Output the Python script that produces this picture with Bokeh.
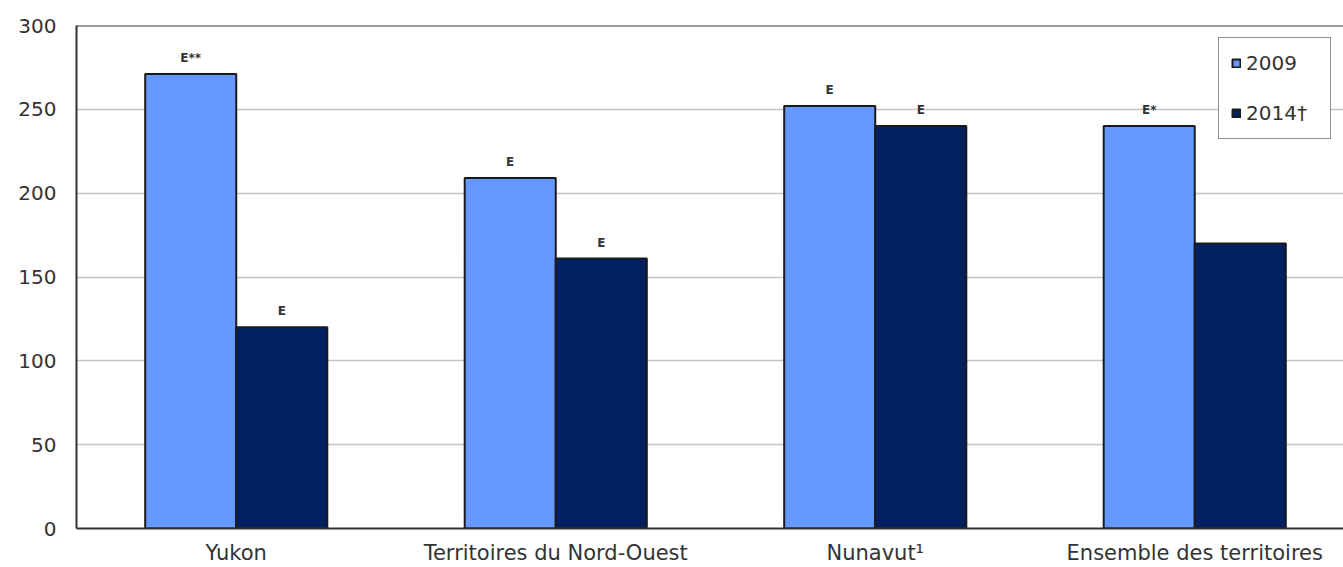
from bokeh.plotting import figure
from bokeh.models import ColumnDataSource, Range1d, FixedTicker, Legend, LegendItem, Span
from bokeh.embed import file_html
from bokeh.resources import INLINE
from bokeh.core.properties import value
from bokeh.transform import dodge

categories = ["Yukon", "Territoires du Nord-Ouest", "Nunavut\u00b9", "Ensemble des territoires"]
series_names = ["2009", "2014\u2020"]
values_2009 = [271, 209, 252, 240]
values_2014 = [120, 161, 240, 170]
notes_2009 = ["E**", "E", "E", "E*"]
notes_2014 = ["E", "E", "E", ""]
y_ticks = [0, 50, 100, 150, 200, 250, 300]

FONT = "DejaVu Sans"
LIGHT = "#6699FF"
DARK = "#002060"

xpos = [i + 0.5 for i in range(len(categories))]
src = ColumnDataSource(dict(x=xpos, v09=values_2009, v14=values_2014,
                            n09=notes_2009, n14=notes_2014))

W, H = 1343, 567
left_b, right_b, top_b, bot_b = 76, 0, 25, 38
cat_px = 319.5
x_end = (W - left_b - right_b) / cat_px

p = figure(width=W, height=H, output_backend="svg", toolbar_location=None,
           x_range=Range1d(0, x_end), y_range=Range1d(0, 300),
           min_border_left=left_b, min_border_right=right_b,
           min_border_top=top_b, min_border_bottom=bot_b)
p.outline_line_color = None
p.background_fill_color = "white"
p.border_fill_color = "white"

bw = 0.285
r1 = p.vbar(x=dodge("x", -bw / 2, range=p.x_range), top="v09", width=bw, source=src,
            fill_color=LIGHT, line_color="#1a1a1a", line_width=2)
r2 = p.vbar(x=dodge("x", bw / 2, range=p.x_range), top="v14", width=bw, source=src,
            fill_color=DARK, line_color="#1a1a1a", line_width=2)

for field, val, off in (("n09", "v09", -bw / 2), ("n14", "v14", bw / 2)):
    p.text(x=dodge("x", off, range=p.x_range), y=val, text=field, source=src,
           text_font=value(FONT), text_font_size="12px", text_font_style="bold",
           text_color="#333333", text_align="center", text_baseline="bottom",
           y_offset=-9)

p.xgrid.grid_line_color = None
p.ygrid.grid_line_color = "#c4c4c4"
p.ygrid.grid_line_width = 1.5
p.ygrid.ticker = FixedTicker(ticks=y_ticks)

p.yaxis.ticker = FixedTicker(ticks=y_ticks)
p.xaxis.ticker = FixedTicker(ticks=xpos)
p.xaxis.major_label_overrides = {x: c for x, c in zip(xpos, categories)}
for ax in (p.xaxis[0], p.yaxis[0]):
    ax.axis_line_color = "#333333"
    ax.axis_line_width = 2
    ax.major_tick_line_color = None
    ax.minor_tick_line_color = None
    ax.major_tick_out = 0
    ax.major_tick_in = 0
    ax.major_label_text_font = FONT
    ax.major_label_text_font_size = "20px"
    ax.major_label_text_color = "#333333"
p.xaxis.major_label_text_font_size = "21px"
p.yaxis.major_label_standoff = 20
p.xaxis.major_label_standoff = 12

p.add_layout(Span(location=300, dimension="width", line_color="#333333", line_width=2))

legend = Legend(items=[LegendItem(label=series_names[0], renderers=[r1]),
                       LegendItem(label=series_names[1], renderers=[r2])],
                location="top_right", margin=12, padding=12, spacing=24,
                label_height=26, label_width=72, glyph_width=10, glyph_height=10,
                label_standoff=5, label_text_font=FONT, label_text_font_size="20px",
                label_text_color="#333333", border_line_color="#222222",
                border_line_width=1.5, background_fill_alpha=1.0)
p.add_layout(legend)

open("out.html", "w").write(file_html(p, INLINE))
